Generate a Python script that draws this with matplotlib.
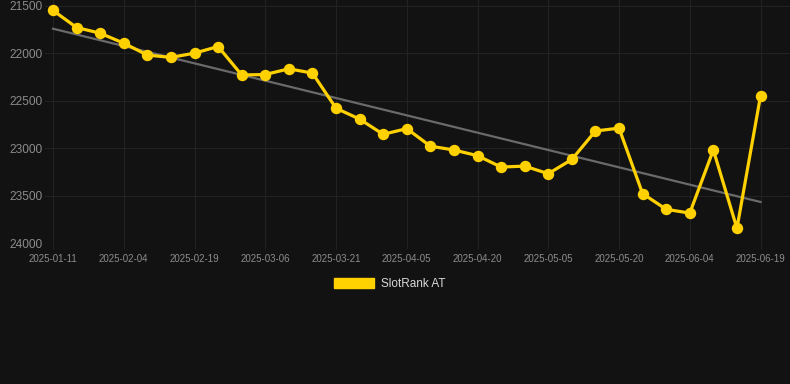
import matplotlib
matplotlib.use("Agg")
import matplotlib.pyplot as plt
import numpy as np

dates = ["2025-01-11", "2025-01-19", "2025-01-27", "2025-02-04", "2025-02-09", "2025-02-14",
         "2025-02-19", "2025-02-24", "2025-03-01", "2025-03-06", "2025-03-11", "2025-03-16",
         "2025-03-21", "2025-03-26", "2025-03-31", "2025-04-05", "2025-04-10", "2025-04-15",
         "2025-04-20", "2025-04-25", "2025-04-30", "2025-05-05", "2025-05-10", "2025-05-15",
         "2025-05-20", "2025-05-25", "2025-05-30", "2025-06-04", "2025-06-09", "2025-06-14",
         "2025-06-19"]
ranks = [21550, 21730, 21790, 21895, 22020, 22045, 22000, 21930, 22230, 22225, 22165, 22210,
         22580, 22695, 22855, 22795, 22980, 23020, 23080, 23200, 23190, 23270, 23120, 22820,
         22790, 23480, 23645, 23685, 23020, 23845, 22450]
series_name = "SlotRank AT"
y_ticks = [21500, 22000, 22500, 23000, 23500, 24000]

BG = "#121212"
GOLD = "#FFD100"
GRID = "#222222"
LABEL = "#8c8c8c"

plt.rcParams["font.family"] = ["Liberation Sans", "DejaVu Sans"]

fig = plt.figure(figsize=(7.9, 3.84), dpi=100, facecolor=BG)
ax = fig.add_axes([45 / 790, 1 - 243 / 384, 1 - 45 / 790, 243 / 384])
ax.set_facecolor(BG)

x = np.arange(len(dates))
coef = np.polyfit(x, ranks, 1)
trend = np.polyval(coef, x)
ax.plot(x, trend, color="#6a6a6a", lw=1.6, zorder=2)
ax.plot(x, ranks, color=GOLD, lw=2.3, marker="o", markersize=7.2, zorder=3,
        label=series_name)

ax.set_ylim(24000, 21440)
ax.set_xlim(-0.34, 31.25)
ax.set_yticks(y_ticks)
ax.set_yticklabels([str(v) for v in y_ticks])
tick_idx = list(range(0, len(dates), 3))
ax.set_xticks(tick_idx)
ax.set_xticklabels([dates[i] for i in tick_idx])

ax.grid(True, color=GRID, lw=0.8)
ax.set_axisbelow(True)
for s in ax.spines.values():
    s.set_visible(False)
ax.tick_params(axis="y", length=0, pad=2, labelsize=8.6, labelcolor=LABEL)
ax.tick_params(axis="x", length=4, color=GRID, pad=4, labelsize=7, labelcolor=LABEL)

handle = plt.Rectangle((0, 0), 1, 1, color=GOLD)
fig.legend([handle], [series_name], loc="center", bbox_to_anchor=(390 / 790, 1 - 284 / 384),
           frameon=False, fontsize=8.5, labelcolor="#d8d8d8", handlelength=3.4,
           handleheight=0.9, handletextpad=0.6)

fig.savefig("out.png", dpi=100, facecolor=BG)
